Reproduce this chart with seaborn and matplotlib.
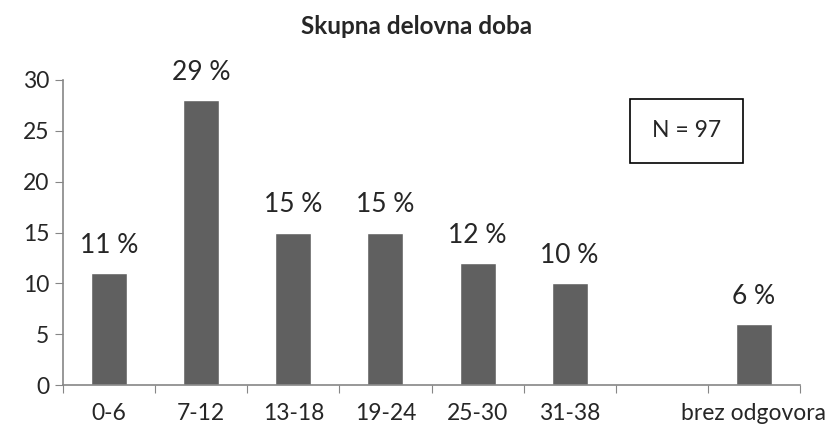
import numpy as np
import pandas as pd
import matplotlib
matplotlib.use("Agg")
import matplotlib.pyplot as plt
import seaborn as sns

# Data
groups = ['0-6', '7-12', '13-18', '19-24', '25-30', '31-38', 'brez odgovora']
counts = [11, 28, 15, 15, 12, 10, 6]
shares = ['11 %', '29 %', '15 %', '15 %', '12 %', '10 %', '6 %']
slot_order = ['0-6', '7-12', '13-18', '19-24', '25-30', '31-38', ' ', 'brez odgovora']
total_n = 97

df = pd.DataFrame({'Group': groups, 'Count': counts, 'Share': shares})

sns.set_style("white")
plt.rcParams['font.family'] = ['Lato', 'DejaVu Sans']

fig = plt.figure(figsize=(8.33, 4.30), dpi=100)
ax = fig.add_axes([63 / 833, 45 / 430, 737 / 833, 305 / 430])

sns.barplot(data=df, x='Group', y='Count', order=slot_order, color='#606060',
            saturation=1, width=0.39, ax=ax)

# Labels above bars
for _, row in df.iterrows():
    xpos = slot_order.index(row['Group'])
    ax.annotate(row['Share'], (xpos, row['Count']), xytext=(0, 11),
                textcoords='offset points', ha='center', va='bottom', fontsize=19)

ax.set_ylim(0, 30)
ax.set_xlim(-0.5, len(slot_order) - 0.5)
ax.set_yticks(range(0, 31, 5))
ax.tick_params(axis='y', labelsize=16.5, length=6, color='#868686', direction='out', left=True, pad=4)

# category boundaries as ticks, labels in the middle
ax.set_xticks(np.arange(-0.5, len(slot_order), 1.0))
ax.set_xticklabels([])
ax.set_xticks(range(len(slot_order)), minor=True)
ax.set_xticklabels(slot_order, minor=True)
ax.tick_params(axis='x', which='major', length=6, color='#868686', direction='out', bottom=True)
ax.tick_params(axis='x', which='minor', length=0, labelsize=16.5, pad=13)

for side in ['top', 'right']:
    ax.spines[side].set_visible(False)
for side in ['left', 'bottom']:
    ax.spines[side].set_color('#868686')
    ax.spines[side].set_linewidth(1.2)

ax.set_xlabel('')
ax.set_ylabel('')
ax.grid(False)

fig.suptitle('Skupna delovna doba', fontsize=17.5, fontweight='bold', y=0.965)

ax.text(6.27, 25.0, f'N = {total_n}', fontsize=16.5, ha='center', va='center',
        bbox=dict(boxstyle='square,pad=0.95', facecolor='white', edgecolor='black', linewidth=1.2))

fig.savefig('out.png', dpi=100)
